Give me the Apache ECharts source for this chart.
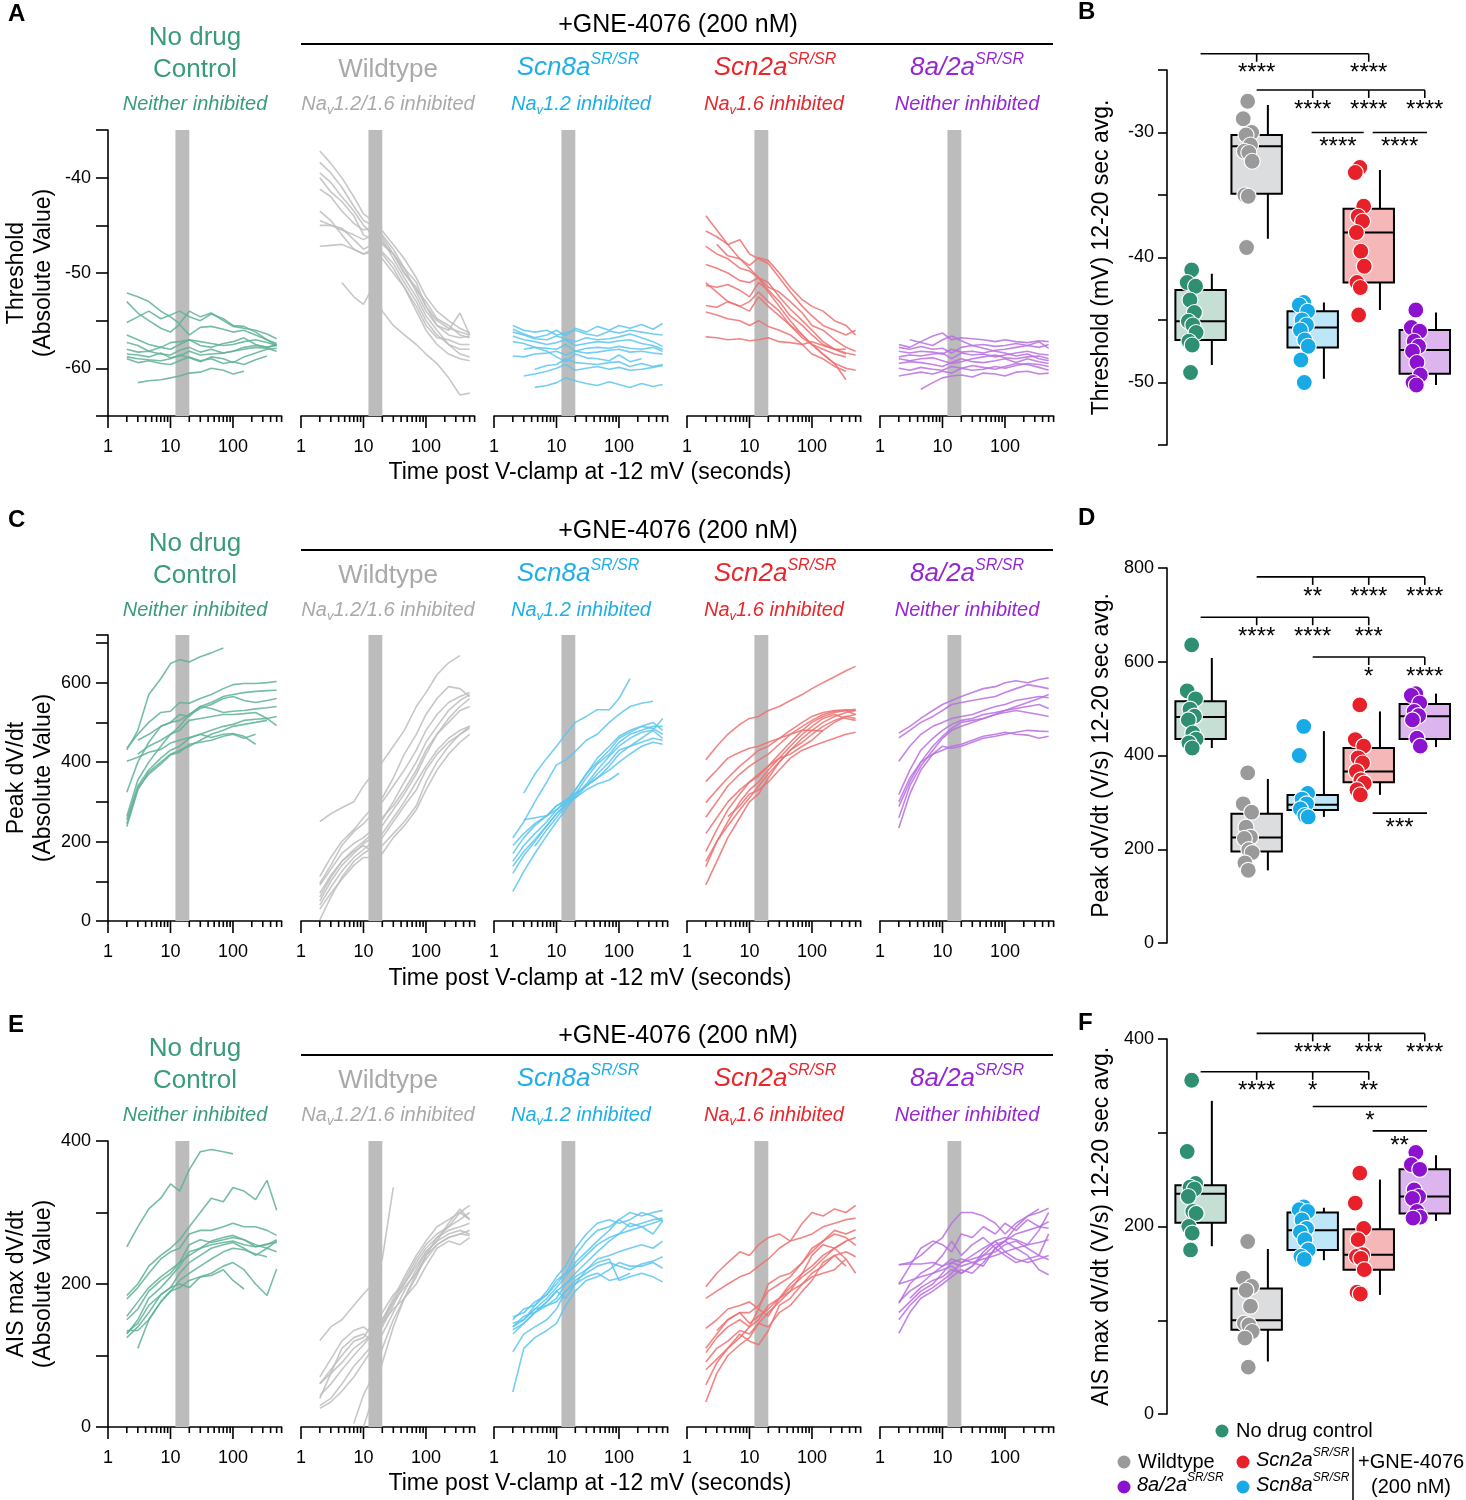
<!DOCTYPE html>
<html lang="en">
<head>
<meta charset="utf-8">
<script src="https://cdn.jsdelivr.net/npm/echarts@6/dist/echarts.min.js"></script>
<style>body{margin:0;background:#fff}</style>
</head>
<body>
<div id="main" style="width:1466px;height:1500px"></div>
<script>
var FONT = '"Liberation Sans", Arial, sans-serif';

// sample times (s) shared by every trace, log spaced
var times = [2, 3, 4.5, 7, 10, 14, 20, 30, 45, 70, 100, 150, 230, 350, 500];
var majorTicks = [1, 10, 100];
var minorTicks = [2, 3, 4, 5, 6, 7, 8, 9, 20, 30, 40, 50, 60, 70, 80, 90, 200, 300, 400, 500, 600];

// ---- A: threshold traces (mV) ----
var thrNoDrug = [
  [-52.1,-52.5,-53.0,-54.0,-54.6,-55.3,-54.0,-54.6,-54.2,-55.0,-55.6,-55.8,-56.0,-56.4,-56.9],
  [-53.0,-54.2,-55.0,-55.8,-56.2,-55.4,-56.5,-55.7,-55.6,-55.9,-56.2,-56.0,-56.5,-57.0,-57.4],
  [-55.2,-54.6,-54.0,-54.8,-54.4,-54.0,-54.6,-55.0,-54.3,-54.8,-55.5,-55.6,-56.2,-57.0,-57.6],
  [-56.5,-57.0,-57.5,-57.8,-57.3,-57.2,-57.0,-57.2,-57.4,-57.6,-57.5,-57.2,-57.0,-57.3,-57.6],
  [-57.3,-57.6,-58.2,-57.8,-58.0,-57.5,-57.0,-57.6,-57.8,-57.4,-57.2,-56.8,-57.5,-57.8,-57.5],
  [-58.0,-58.3,-58.2,-58.5,-58.6,-58.1,-57.8,-58.3,-58.0,-58.4,-58.2,-57.8,-57.6,-57.8,-57.6],
  [-58.5,-58.6,-58.8,-58.4,-58.9,-58.7,-58.2,-58.6,-58.5,-58.4,-58.2,-58.0,-57.8,-57.9,-58.2],
  [-58.8,-59.0,-59.1,-59.2,-59.0,-58.6,-58.9,-59.3,-58.8,-59.0,-59.4,-58.8,-58.4,-58.0,-57.9],
  [-59.0,-59.4,-59.2,-59.5,-59.6,-59.2,-58.8,-59.2,-59.0,-59.5,-59.3,-59.6,-59.1,-58.7,null],
  [null,-61.5,-61.3,-61.2,-61.0,-60.8,-60.5,-60.4,-60.0,-60.2,-60.6,-60.3,null,null,null]
];
var thrWT = [
  [-37.2,-38.5,-40.0,-42.0,-43.8,-44.5,-45.6,-47.0,-48.5,-50.5,-52.5,-54.0,-55.0,-55.8,-56.3],
  [-38.4,-39.5,-41.0,-43.0,-44.5,-45.0,-46.2,-48.0,-50.0,-51.8,-53.0,-54.8,-55.5,-56.5,-56.8],
  [-39.5,-40.5,-42.0,-43.5,-45.0,-46.0,-46.5,-48.5,-50.5,-52.5,-54.5,-56.0,-57.5,-58.0,-58.0],
  [-41.2,-42.0,-43.5,-44.8,-45.5,-45.2,-46.0,-47.5,-49.5,-52.0,-54.0,-55.5,-56.0,-54.2,-56.5],
  [-43.5,-44.5,-46.0,-47.5,-48.0,-47.5,-48.0,-49.5,-51.5,-54.0,-56.0,-57.5,-58.5,-59.0,-59.2],
  [-44.5,-45.0,-45.5,-46.0,-46.5,-46.0,-46.8,-48.0,-49.5,-51.0,-53.5,-55.5,-56.5,-56.8,-56.6],
  [-45.0,-45.0,-45.3,-46.5,-47.5,-47.0,-47.8,-49.0,-51.0,-53.0,-55.0,-56.5,-57.5,-58.5,-58.8],
  [-47.2,-47.1,-47.0,-47.5,-48.0,-47.8,-48.5,-50.0,-51.5,-53.5,-55.5,-56.8,-57.0,-57.5,-57.5],
  [null,null,-51.0,-52.5,-53.3,-51.5,-54.0,-55.5,-56.5,-57.5,-58.5,-59.5,-61.0,-62.8,-62.6],
  [-40.0,-41.5,-42.5,-44.0,-46.0,-46.5,-47.0,-48.0,-50.0,-51.5,-53.5,-55.0,-55.8,-56.2,-56.5]
];
var thrScn8a = [
  [-55.9,-56.4,-56.8,-56.5,-56.0,-56.6,-55.8,-56.2,-55.6,-56.0,-55.5,-55.8,-55.4,-55.9,-55.3],
  [-56.2,-56.5,-56.9,-57.0,-56.6,-56.9,-57.2,-56.8,-57.0,-56.9,-56.7,-56.4,-56.8,-57.2,-57.7],
  [-56.6,-57.0,-57.2,-57.5,-57.3,-57.0,-57.6,-57.4,-57.2,-57.3,-57.1,-57.0,-57.4,-57.6,-58.0],
  [-57.2,-57.4,-57.8,-57.9,-58.0,-57.5,-58.2,-57.9,-57.8,-57.9,-57.7,-57.9,-58.0,-57.8,-58.2],
  [-58.7,-58.8,-58.5,-58.4,-58.2,-58.6,-58.2,-58.4,-58.3,-58.1,-58.0,-58.3,-58.2,-58.4,-58.5],
  [null,-58.0,-57.8,-58.2,-58.8,-59.3,-58.5,-58.9,-59.0,-59.2,-58.6,-59.3,-59.0,null,null],
  [null,null,-60.1,-59.7,-59.6,-59.0,-59.4,-59.5,-59.6,-59.4,-59.3,-59.8,-59.5,-59.8,-59.6],
  [null,-60.8,-60.6,-60.3,-60.0,-59.6,-60.2,-60.0,-59.8,-60.1,-59.9,-60.2,-60.1,-59.9,-59.7],
  [null,null,-62.0,-61.8,-61.5,-61.0,-61.3,-61.6,-61.8,-61.4,-61.7,-62.0,-61.6,-61.9,-61.7],
  [-55.5,-56.0,-56.2,-56.0,-56.5,-56.3,-56.0,-56.4,-56.6,-56.1,-56.3,-56.0,-56.2,-56.4,-56.5]
];
var thrScn2a = [
  [-44.0,-45.5,-47.0,-48.5,-49.5,-50.5,-52.0,-53.5,-55.0,-56.5,-57.5,-58.5,-59.5,-61.2,null],
  [-45.6,-46.2,-47.0,-46.5,-48.0,-48.5,-49.0,-50.5,-52.0,-53.5,-54.5,-55.5,-56.0,-56.5,-56.0],
  [-47.2,-48.0,-48.5,-49.5,-49.8,-50.5,-51.0,-52.5,-53.8,-55.0,-56.0,-57.2,-58.0,-58.4,-58.6],
  [null,-47.0,-48.2,-48.5,-49.2,-48.4,-48.7,-50.0,-51.5,-52.8,-53.5,-54.0,-55.0,-55.5,-56.5],
  [-49.1,-49.5,-50.0,-50.8,-51.0,-50.5,-51.5,-52.0,-53.0,-54.2,-55.5,-56.0,-57.0,-57.8,-58.2],
  [-51.3,-51.5,-51.2,-51.8,-52.5,-51.0,-51.8,-53.0,-54.5,-55.5,-56.5,-57.5,-58.0,-58.5,null],
  [-53.4,-53.6,-53.0,-53.5,-54.0,-52.5,-53.5,-54.5,-55.5,-56.8,-57.5,-58.0,-58.5,-58.8,null],
  [-54.1,-54.4,-54.8,-55.0,-55.5,-55.0,-55.6,-56.0,-56.5,-57.5,-58.5,-59.0,-59.8,-60.3,null],
  [-56.7,-56.8,-57.0,-56.9,-57.1,-57.0,-56.8,-57.2,-57.3,-57.5,-57.2,-57.6,-58.0,-58.0,null],
  [-51.0,-52.0,-53.0,-53.5,-53.0,-52.0,-53.0,-54.0,-55.5,-56.5,-57.5,-58.5,-59.5,-60.0,-60.2]
];
var thrDouble = [
  [-57.5,-57.8,-57.2,-56.6,-56.3,-57.0,-56.8,-56.9,-57.0,-57.2,-57.0,-57.2,-57.3,-57.1,-57.2],
  [-57.8,-58.0,-57.7,-58.0,-57.9,-58.4,-57.8,-57.6,-57.5,-57.7,-57.6,-57.4,-57.6,-57.8,-57.5],
  [-58.2,-58.4,-58.2,-58.3,-58.5,-58.0,-58.3,-58.2,-58.4,-58.1,-58.0,-57.8,-57.6,-57.2,-57.9],
  [-58.8,-58.6,-58.7,-58.5,-58.4,-59.0,-58.4,-58.6,-58.5,-58.8,-58.6,-58.4,-58.2,-58.5,-58.6],
  [-59.5,-59.3,-59.4,-59.6,-59.8,-59.4,-59.0,-59.3,-59.4,-59.2,-59.0,-59.4,-59.0,-59.3,-59.5],
  [-60.0,-60.2,-59.9,-60.1,-60.2,-59.8,-60.0,-59.7,-59.9,-60.1,-59.8,-59.5,-59.6,-59.9,-60.2],
  [-60.8,-60.6,-60.4,-60.6,-60.3,-60.5,-60.0,-60.2,-60.1,-59.8,-60.0,-59.7,-59.5,-59.6,-59.8],
  [null,null,-62.2,-61.5,-61.0,-60.8,-60.7,-60.9,-60.5,-60.6,-60.8,-60.4,-60.3,-60.6,-60.5],
  [null,-57.0,-57.3,-57.6,-57.0,-56.6,-57.1,-57.6,-57.9,-58.2,-58.4,-58.7,-58.5,-59.0,-59.2],
  [-59.0,-59.2,-59.0,-58.9,-59.2,-59.5,-59.3,-59.0,-58.8,-58.6,-58.9,-59.0,-58.8,-58.7,-59.0]
];

// ---- C: peak dV/dt traces (V/s) ----
var peakNoDrug = [
  [431,480,570,610,648,658,652,665,675,687,null,null,null,null,null],
  [435,470,500,525,528,550,548,560,570,585,595,598,598,600,603],
  [402,412,425,432,448,455,462,470,462,470,472,465,445,null,null],
  [324,400,450,490,500,520,515,540,535,525,528,530,534,537,540],
  [null,455,470,490,500,505,520,535,545,560,565,555,550,555,560],
  [263,355,400,440,470,490,520,540,550,565,570,575,578,580,581],
  [255,340,380,410,430,440,460,470,480,490,495,505,508,510,515],
  [238,330,375,400,420,430,440,455,470,480,490,495,500,505,null],
  [245,335,370,395,418,425,445,450,455,465,470,460,470,null,null],
  [null,420,440,455,470,480,505,510,515,520,520,522,525,510,492]
];
var peakWT = [
  [250,270,285,300,340,370,400,440,480,540,575,620,650,668,null],
  [112,160,200,230,260,285,310,360,420,470,520,560,590,585,565],
  [95,140,190,225,245,270,300,340,380,430,480,520,550,565,575],
  [60,110,150,180,200,220,255,300,350,400,450,490,530,555,570],
  [50,100,140,170,195,210,240,280,320,370,420,470,510,540,560],
  [40,85,125,160,180,200,220,260,300,350,390,430,460,480,490],
  [3,60,110,150,170,185,210,250,290,330,380,420,450,470,485],
  [70,115,150,175,190,175,190,220,250,290,350,400,440,470,490],
  [30,70,105,140,160,160,170,210,240,280,330,380,420,450,470],
  [90,130,170,195,210,230,260,290,330,380,430,470,500,530,540]
];
var peakScn8a = [
  [null,322,370,410,440,470,500,515,532,532,560,610,null,null,null],
  [209,250,300,350,393,405,427,455,470,500,520,540,548,553,null],
  [150,190,220,250,280,300,330,370,400,430,460,475,490,485,470],
  [138,175,205,240,270,290,320,360,395,420,450,470,480,490,490],
  [74,125,170,215,250,280,315,345,380,415,440,460,475,480,460],
  [null,255,260,265,280,300,320,340,360,390,420,440,460,480,510],
  [null,null,188,230,260,290,310,340,370,400,430,440,450,460,455],
  [170,210,240,265,290,305,320,340,360,380,400,420,440,450,445],
  [190,220,245,265,290,300,310,330,345,355,372,null,null,null,null],
  [120,165,200,240,270,295,330,370,410,440,465,480,490,500,480]
];
var peakScn2a = [
  [406,440,470,495,510,515,530,540,555,570,585,600,615,630,641],
  [351,380,410,425,435,440,450,460,470,480,480,478,null,null,null],
  [298,330,360,390,410,430,440,460,480,500,515,525,530,532,530],
  [261,300,340,370,390,405,420,445,470,490,505,520,528,530,533],
  [175,230,280,320,350,370,390,420,450,480,500,515,525,530,520],
  [137,200,250,300,330,350,380,410,440,470,490,510,520,510,505],
  [91,150,210,260,300,320,360,400,430,460,480,500,515,525,530],
  [null,null,263,290,320,330,350,380,410,430,440,450,460,470,475],
  [220,260,300,330,350,365,390,410,420,440,455,480,500,515,510],
  [150,200,240,280,310,340,370,400,430,450,470,490,505,515,520]
];
var peakDouble = [
  [473,490,510,530,545,555,565,575,585,590,600,605,600,608,612],
  [461,480,500,515,530,545,550,555,560,565,575,585,595,590,585],
  [402,440,470,490,500,510,515,520,530,540,545,555,560,565,562],
  [318,380,430,460,480,495,505,510,520,525,530,535,540,545,535],
  [288,350,400,440,465,485,500,505,510,520,525,530,525,520,515],
  [234,320,380,420,440,435,440,450,460,465,470,475,480,478,477],
  [300,360,400,420,430,440,445,455,465,470,475,470,468,460,465],
  [260,340,390,430,460,480,490,500,510,520,530,540,550,560,570]
];

// ---- E: AIS max dV/dt traces (V/s) ----
var aisNoDrug = [
  [252,280,305,320,340,330,360,385,388,385,382,null,null,null,null],
  [184,200,225,240,250,262,280,300,320,315,335,330,318,345,303],
  [179,195,215,235,245,250,270,275,275,280,285,280,280,275,268],
  [155,175,195,210,220,230,240,250,260,265,268,262,255,250,260],
  [130,150,180,195,210,225,245,250,255,258,260,255,252,255,262],
  [125,140,160,185,195,215,230,240,250,255,258,250,240,250,245],
  [135,135,150,175,190,205,215,225,235,245,250,248,242,238,null],
  [null,110,150,175,190,195,205,210,212,220,205,193,null,null,null],
  [132,145,170,185,195,200,195,210,215,225,230,220,200,184,221],
  [150,165,190,205,215,230,255,262,258,262,265,262,252,256,258]
];
var aisWT = [
  [121,140,150,170,186,200,235,335,null,null,null,null,null,null,null],
  [61,75,90,110,120,130,150,180,210,240,260,280,290,300,310],
  [44,60,80,100,115,130,145,175,205,235,255,270,280,290,300],
  [30,40,60,85,100,115,140,170,200,230,250,265,275,280,285],
  [26,35,50,70,90,110,130,160,190,220,245,260,270,275,270],
  [null,null,null,5,45,70,110,150,180,210,240,255,265,270,275],
  [null,null,null,null,0,40,90,140,180,215,240,265,280,300,290],
  [70,95,120,135,140,130,150,175,195,215,235,255,265,270,268],
  [40,75,110,125,130,120,145,165,180,200,225,250,260,255,265],
  [60,80,100,120,125,145,160,185,200,225,245,260,285,305,290]
];
var aisScn8a = [
  [154,160,175,185,200,215,240,260,275,280,290,300,295,300,303],
  [150,165,170,190,210,225,250,270,285,290,285,290,300,295,288],
  [140,150,165,180,195,210,230,245,260,275,290,280,285,290,292],
  [136,145,160,175,190,200,215,230,245,260,270,285,280,270,288],
  [105,130,140,150,165,190,205,215,225,230,225,220,228,232,238],
  [49,110,125,135,145,170,190,205,210,220,230,225,225,230,222],
  [null,150,165,170,180,200,210,220,230,235,205,210,215,210,203],
  [140,155,160,170,175,190,200,210,215,205,208,215,null,null,null],
  [145,150,170,185,205,215,225,240,255,265,270,275,280,285,290],
  [130,145,160,175,190,180,200,220,235,240,245,250,255,250,260]
];
var aisScn2a = [
  [196,215,230,245,240,255,265,270,260,285,300,295,305,300,310],
  [180,190,200,210,215,225,235,250,260,265,270,280,285,290,292],
  [138,150,165,170,175,165,200,210,215,230,245,260,275,270,276],
  [110,130,150,160,160,170,190,200,210,230,250,260,270,265,254],
  [104,125,140,150,140,150,170,180,190,200,215,225,240,245,238],
  [91,110,120,135,130,145,160,175,190,215,240,255,250,235,215],
  [59,90,110,125,140,165,155,180,195,210,220,235,250,260,null],
  [35,75,100,115,125,145,140,160,170,190,205,230,240,225,null],
  [null,135,150,160,145,155,165,180,200,215,225,240,250,260,265],
  [80,95,110,130,120,115,135,170,180,200,210,215,220,235,null]
];
var aisDouble = [
  [227,230,240,255,265,285,300,300,295,285,270,285,295,300,306],
  [200,225,250,260,255,245,270,265,280,270,285,275,290,280,287],
  [173,200,215,225,240,260,240,255,265,250,260,270,275,280,278],
  [150,170,185,195,205,215,230,235,240,245,255,260,250,240,234],
  [131,160,180,190,200,210,220,215,230,250,260,250,240,220,213],
  [200,205,210,215,220,225,215,225,245,260,245,235,230,235,240],
  [175,190,200,215,225,230,235,230,225,250,240,230,235,240,270],
  [227,228,228,230,225,235,230,240,250,260,265,262,255,275,300],
  [null,180,195,205,210,220,215,225,240,255,260,280,295,305,null],
  [160,175,190,200,215,230,225,230,235,240,245,250,255,258,262]
];

// ---- box panels: [lower whisker, Q1, median, Q3, upper whisker] per group ----
var thrBox = [[-48.6,-46.6,-45.1,-42.6,-41.3],[-38.5,-34.9,-31.1,-30.2,-27.8],[-49.7,-47.2,-45.6,-44.3,-43.6],[-44.2,-42.0,-38.0,-36.1,-33.0],[-50.2,-49.3,-47.4,-45.8,-44.4]];
var thrDots = [
  [-41.0,-42.0,-42.3,-43.4,-44.4,-45.1,-45.4,-46.0,-46.7,-47.0,-49.2],
  [-27.5,-28.9,-30.0,-30.2,-31.0,-31.5,-31.6,-32.3,-35.0,-35.1,-39.2],
  [-43.6,-43.8,-44.3,-45.0,-45.4,-45.8,-46.6,-47.1,-48.2,-50.0],
  [-32.8,-33.2,-35.9,-36.7,-37.1,-38.0,-39.5,-40.7,-42.0,-42.4,-44.6],
  [-44.2,-45.6,-45.9,-46.7,-47.1,-47.5,-48.4,-49.4,-50.0,-50.2]
];
var peakBox = [[416,435,482,516,608],[155,195,225,276,350],[269,284,295,316,452],[316,343,366,416,494],[418,435,484,510,532]];
var peakDots = [
  [636,538,521,499,484,476,448,435,427,416],
  [363,297,279,247,226,223,199,193,171,155],
  [462,400,319,307,297,286,272,269],
  [508,434,420,395,384,366,348,341,327,316],
  [532,528,512,494,485,476,437,420]
];
var aisBox = [[179,204,235,244,334],[56,90,100,134,176],[164,175,196,215,220],[127,154,170,197,250],[206,214,232,261,276]];
var aisDots = [
  [356,280,246,242,240,232,216,214,200,193,175],
  [184,145,136,132,115,97,95,88,81,50],
  [221,218,216,207,198,194,186,175,168,165],
  [257,225,198,186,170,168,166,154,130,128],
  [279,266,261,239,232,230,216,210,209]
];

// significance brackets: group span, height (data units), tick groups, star labels
var thrSig = [
  {from:0, to:3, y:-23.7, ticks:[1,3], labels:[[1,'****'],[3,'****']]},
  {from:1, to:4, y:-26.6, ticks:[2,3,4], labels:[[2,'****'],[3,'****'],[4,'****']]},
  {from:1.98, to:2.91, y:-30.0, ticks:[], labels:[[2.45,'****']]},
  {from:3.07, to:4.04, y:-30.0, ticks:[], labels:[[3.55,'****']]}
];
var peakSig = [
  {from:1, to:4, y:781, ticks:[2,3,4], labels:[[2,'**'],[3,'****'],[4,'****']]},
  {from:0, to:3, y:695, ticks:[1,2,3], labels:[[1,'****'],[2,'****'],[3,'***']]},
  {from:2, to:4, y:610, ticks:[3,4], labels:[[3,'*'],[4,'****']]},
  {from:3.07, to:4.04, y:277, ticks:[], labels:[[3.55,'***']]}
];
var aisSig = [
  {from:1, to:4, y:406, ticks:[2,3,4], labels:[[2,'****'],[3,'***'],[4,'****']]},
  {from:0, to:3, y:365, ticks:[1,2,3], labels:[[1,'****'],[2,'*'],[3,'**']]},
  {from:2, to:4.04, y:328, ticks:[], labels:[[3.02,'*']]},
  {from:3.07, to:4.04, y:302, ticks:[], labels:[[3.55,'**']]}
];

var lineColors = ['#5fb296', '#bdbdbd', '#5cc6ee', '#ef7070', '#b96fe2'];
var headColors = ['#3a9b7b', '#a9a9a9', '#1eaee8', '#e8262b', '#9426d4'];
var dotColors = ['#2f8f72', '#9a9a9a', '#17aae6', '#e8202a', '#8d12cf'];
var boxFills = ['#c6dfd5', '#dcdddf', '#bde6f8', '#f5b7b8', '#dcb4ee'];
var jitter = [0, -0.08, 0.07, -0.03, 0.05, -0.06, 0.02, 0.08, -0.05, 0.01, -0.02];

var traceRows = [
  {sets:[thrNoDrug, thrWT, thrScn8a, thrScn2a, thrDouble], min:-65, max:-35, interval:5, step:10, top:130, name:'Threshold\n(Absolute Value)'},
  {sets:[peakNoDrug, peakWT, peakScn8a, peakScn2a, peakDouble], min:0, max:720, interval:100, step:200, top:635, name:'Peak dV/dt\n(Absolute Value)'},
  {sets:[aisNoDrug, aisWT, aisScn8a, aisScn2a, aisDouble], min:0, max:400, interval:100, step:200, top:1141, name:'AIS max dV/dt\n(Absolute Value)'}
];
var boxRows = [
  {box:thrBox, dots:thrDots, sig:thrSig, min:-55, max:-25, interval:5, step:10, top:70, name:'Threshold (mV) 12-20 sec avg.'},
  {box:peakBox, dots:peakDots, sig:peakSig, min:0, max:800, interval:200, step:200, top:568, name:'Peak dV/dt (V/s) 12-20 sec avg.'},
  {box:aisBox, dots:aisDots, sig:aisSig, min:0, max:400, interval:100, step:200, top:1039, name:'AIS max dV/dt (V/s) 12-20 sec avg.'}
];

var grids = [], xAxes = [], yAxes = [], series = [];
var axisLine = {show:true, onZero:false, lineStyle:{color:'#000', width:1.6}};

function stepLabel(step) {
  return function (v) { return Math.abs(v % step) < 1e-9 ? String(v) : ''; };
}

traceRows.forEach(function (row, r) {
  row.sets.forEach(function (set, p) {
    var gi = grids.length;
    grids.push({left:108 + 193 * p, top:row.top, width:173.6, height:286});
    xAxes.push({
      type:'log', logBase:10, gridIndex:gi, min:1, max:600,
      axisLine:axisLine, axisTick:{show:false}, splitLine:{show:false},
      axisLabel:{fontFamily:FONT, fontSize:18, color:'#000', margin:22,
        formatter:function (v) { var l = Math.log(v) / Math.LN10; return Math.abs(l - Math.round(l)) < 1e-6 ? String(Math.round(v)) : ''; }}
    });
    yAxes.push({
      type:'value', gridIndex:gi, min:row.min, max:row.max, interval:row.interval, show:p === 0,
      axisLine:axisLine, splitLine:{show:false},
      axisTick:{show:true, length:12, lineStyle:{color:'#000', width:1.6}},
      axisLabel:{fontFamily:FONT, fontSize:18, color:'#000', margin:17, formatter:stepLabel(row.step)},
      name:row.name, nameLocation:'middle', nameGap:51, nameRotate:90,
      nameTextStyle:{fontFamily:FONT, fontSize:23, color:'#000', lineHeight:27}
    });
    // 12-20 s averaging window
    series.push({
      type:'line', xAxisIndex:gi, yAxisIndex:gi, data:[], silent:true, z:1,
      markArea:{silent:true, itemStyle:{color:'#bcbcbc'}, data:[[{xAxis:12}, {xAxis:20}]]}
    });
    set.forEach(function (vals) {
      var d = [];
      vals.forEach(function (v, k) { if (v !== null) d.push([times[k], v]); });
      series.push({
        type:'line', xAxisIndex:gi, yAxisIndex:gi, data:d, symbol:'none', silent:true, z:2,
        lineStyle:{color:lineColors[p], width:1.6, opacity:0.85}
      });
    });
    // log ticks (major + minor) drawn below the x axis line
    var tickData = majorTicks.map(function (v) { return [v, row.min, 1]; })
      .concat(minorTicks.map(function (v) { return [v, row.min, 0]; }));
    series.push({
      type:'custom', xAxisIndex:gi, yAxisIndex:gi, data:tickData, silent:true, z:3, clip:false,
      renderItem:function (params, api) {
        var pt = api.coord([api.value(0), api.value(1)]);
        var len = api.value(2) ? 12 : 6;
        return {type:'line', shape:{x1:pt[0], y1:pt[1], x2:pt[0], y2:pt[1] + len}, style:{stroke:'#000', lineWidth:1.6}};
      }
    });
  });
});

boxRows.forEach(function (row) {
  var gi = grids.length;
  grids.push({left:1167, top:row.top, width:283, height:375});
  xAxes.push({type:'value', gridIndex:gi, min:-0.6, max:4.45, show:false});
  yAxes.push({
    type:'value', gridIndex:gi, min:row.min, max:row.max, interval:row.interval,
    axisLine:axisLine, splitLine:{show:false},
    axisTick:{show:true, length:9, lineStyle:{color:'#000', width:1.6}},
    axisLabel:{fontFamily:FONT, fontSize:18, color:'#000', margin:13, formatter:stepLabel(row.step)},
    name:row.name, nameLocation:'middle', nameGap:54, nameRotate:90,
    nameTextStyle:{fontFamily:FONT, fontSize:23, color:'#000'}
  });
  series.push({
    type:'custom', xAxisIndex:gi, yAxisIndex:gi, silent:true, z:3, clip:false,
    data:row.box.map(function (b, i) { return [i].concat(b); }),
    encode:{x:0, y:[1, 2, 3, 4, 5]},
    renderItem:function (params, api) {
      var i = api.value(0);
      var wx = api.coord([i + 0.2, 0])[0];
      var xl = api.coord([i - 0.45, 0])[0], xr = api.coord([i + 0.45, 0])[0];
      var yLo = api.coord([i, api.value(1)])[1], yQ1 = api.coord([i, api.value(2)])[1];
      var yMed = api.coord([i, api.value(3)])[1], yQ3 = api.coord([i, api.value(4)])[1];
      var yHi = api.coord([i, api.value(5)])[1];
      var st = {stroke:'#000', lineWidth:2};
      return {type:'group', children:[
        {type:'line', shape:{x1:wx, y1:yQ3, x2:wx, y2:yHi}, style:st},
        {type:'line', shape:{x1:wx, y1:yQ1, x2:wx, y2:yLo}, style:st},
        {type:'rect', shape:{x:xl, y:yQ3, width:xr - xl, height:yQ1 - yQ3}, style:{fill:boxFills[i], stroke:'#000', lineWidth:2}},
        {type:'line', shape:{x1:xl, y1:yMed, x2:xr, y2:yMed}, style:st}
      ]};
    }
  });
  row.dots.forEach(function (vals, i) {
    series.push({
      type:'scatter', xAxisIndex:gi, yAxisIndex:gi, silent:true, z:5, symbolSize:16,
      itemStyle:{color:dotColors[i], borderColor:'#fff', borderWidth:1.2, opacity:1},
      data:vals.map(function (v, k) { return [i - 0.16 + jitter[k % jitter.length], v]; })
    });
  });
  var sig = row.sig;
  series.push({
    type:'custom', xAxisIndex:gi, yAxisIndex:gi, silent:true, z:6, clip:false,
    data:sig.map(function (s) { return [s.from, s.y, s.to]; }),
    encode:{x:[0, 2], y:1},
    renderItem:function (params, api) {
      var s = sig[params.dataIndex];
      var a = api.coord([s.from, s.y]), b = api.coord([s.to, s.y]);
      var kids = [{type:'line', shape:{x1:a[0], y1:a[1], x2:b[0], y2:a[1]}, style:{stroke:'#000', lineWidth:1.6}}];
      s.ticks.forEach(function (t) {
        var x = api.coord([t, s.y])[0];
        kids.push({type:'line', shape:{x1:x, y1:a[1], x2:x, y2:a[1] + 8}, style:{stroke:'#000', lineWidth:1.6}});
      });
      var off = s.ticks.length ? 8 : 3;
      s.labels.forEach(function (l) {
        var x = api.coord([l[0], s.y])[0];
        kids.push({type:'text', style:{text:l[1], x:x, y:a[1] + off, fill:'#000', font:'24px ' + FONT,
          align:'center', verticalAlign:'top', textAlign:'center', textVerticalAlign:'top'}});
      });
      return {type:'group', children:kids};
    }
  });
});

// ---- text graphics ----
var graphics = [];
function txt(x, y, text, size, color, opt) {
  opt = opt || {};
  graphics.push({type:'text', silent:true, z:10, style:{
    text:text, x:x, y:y, fill:color,
    font:(opt.italic ? 'italic ' : '') + (opt.bold ? 'bold ' : '') + size + 'px ' + FONT,
    align:opt.align || 'center', verticalAlign:'middle',
    textAlign:opt.align || 'center', textVerticalAlign:'middle',
    rich:opt.rich
  }});
}
function supRich(size, color, ratio) {
  var s = Math.round(size * (ratio || 0.62));
  return {
    m:{fontSize:size, fontStyle:'italic', fontFamily:FONT, fill:color, color:color, lineHeight:size + 6},
    s:{fontSize:s, fontStyle:'italic', fontFamily:FONT, fill:color, color:color, lineHeight:s + 3, verticalAlign:'top'}
  };
}
function subRich(size, color) {
  return {
    m:{fontSize:size, fontStyle:'italic', fontFamily:FONT, fill:color, color:color, lineHeight:size + 6},
    v:{fontSize:Math.round(size * 0.65), fontStyle:'italic', fontFamily:FONT, fill:color, color:color, lineHeight:Math.round(size * 0.65), verticalAlign:'bottom'}
  };
}

[0, 506, 1011].forEach(function (dy, r) {
  txt(8, 14 + dy, ['A', 'C', 'E'][r], 24, '#000', {bold:true, align:'left'});
  txt(1078, 12 + dy, ['B', 'D', 'F'][r], 24, '#000', {bold:true, align:'left'});
  txt(195, 38 + dy, 'No drug', 26, headColors[0]);
  txt(195, 70 + dy, 'Control', 26, headColors[0]);
  txt(195, 104 + dy, 'Neither inhibited', 20, headColors[0], {italic:true});
  txt(678, 25 + dy, '+GNE-4076 (200 nM)', 25, '#000');
  graphics.push({type:'line', silent:true, shape:{x1:301, y1:44 + dy, x2:1053, y2:44 + dy}, style:{stroke:'#000', lineWidth:2}});
  txt(388, 70 + dy, 'Wildtype', 26, headColors[1]);
  txt(388, 104 + dy, '{m|Na}{v|v}{m|1.2/1.6 inhibited}', 20, headColors[1], {rich:subRich(20, headColors[1])});
  txt(578, 68 + dy, '{m|Scn8a}{s|SR/SR}', 26, headColors[2], {rich:supRich(26, headColors[2])});
  txt(581, 104 + dy, '{m|Na}{v|v}{m|1.2 inhibited}', 20, headColors[2], {rich:subRich(20, headColors[2])});
  txt(775, 68 + dy, '{m|Scn2a}{s|SR/SR}', 26, headColors[3], {rich:supRich(26, headColors[3])});
  txt(774, 104 + dy, '{m|Na}{v|v}{m|1.6 inhibited}', 20, headColors[3], {rich:subRich(20, headColors[3])});
  txt(967, 68 + dy, '{m|8a/2a}{s|SR/SR}', 26, headColors[4], {rich:supRich(26, headColors[4])});
  txt(967, 104 + dy, 'Neither inhibited', 20, headColors[4], {italic:true});
  txt(590, 473 + dy, 'Time post V-clamp at -12 mV (seconds)', 23, '#000');
});

// legend under panel F
function dot(x, y, c) {
  graphics.push({type:'circle', silent:true, shape:{cx:x, cy:y, r:6.5}, style:{fill:c}});
}
dot(1222, 1431, dotColors[0]); txt(1236, 1431, 'No drug control', 20, '#000', {align:'left'});
dot(1124, 1462, dotColors[1]); txt(1138, 1462, 'Wildtype', 20, '#000', {align:'left'});
dot(1243, 1462, dotColors[3]); txt(1256, 1460, '{m|Scn2a}{s|SR/SR}', 20, '#000', {align:'left', rich:supRich(20, '#000', 0.58)});
dot(1124, 1487, dotColors[4]); txt(1137, 1485, '{m|8a/2a}{s|SR/SR}', 20, '#000', {align:'left', rich:supRich(20, '#000', 0.58)});
dot(1243, 1487, dotColors[2]); txt(1256, 1485, '{m|Scn8a}{s|SR/SR}', 20, '#000', {align:'left', rich:supRich(20, '#000', 0.58)});
graphics.push({type:'line', silent:true, shape:{x1:1353, y1:1447, x2:1353, y2:1500}, style:{stroke:'#000', lineWidth:1.5}});
txt(1358, 1462, '+GNE-4076', 20, '#000', {align:'left'});
txt(1411, 1487, '(200 nM)', 20, '#000');

var chart = echarts.init(document.getElementById('main'));
chart.setOption({
  animation:false,
  backgroundColor:'#fff',
  textStyle:{fontFamily:FONT},
  grid:grids, xAxis:xAxes, yAxis:yAxes, series:series, graphic:graphics
});
</script>
</body>
</html>
